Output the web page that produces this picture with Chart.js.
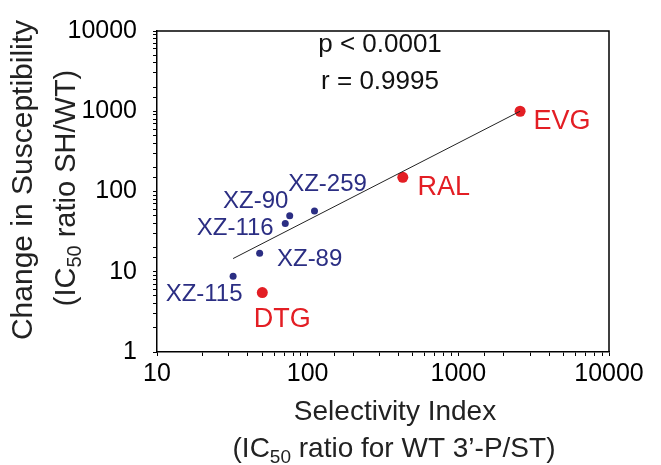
<!DOCTYPE html>
<html>
<head>
<meta charset="utf-8">
<script src="https://cdn.jsdelivr.net/npm/chart.js@4"></script>
<style>
  html, body { margin: 0; padding: 0; background: #fff; }
  #wrap { width: 661px; height: 465px; position: relative; }
</style>
</head>
<body>
<div id="wrap"><canvas id="siChart"></canvas></div>
<script>
// XZ compounds (blue)
const xzNames = ['XZ-115', 'XZ-89', 'XZ-116', 'XZ-90', 'XZ-259'];
const xzSelectivity = [32, 48, 71, 76, 111];
const xzFoldChange = [8.8, 17, 40, 50, 57];

// reference drugs (red)
const drugNames = ['DTG', 'RAL', 'EVG'];
const drugSelectivity = [50, 428, 2570];
const drugFoldChange = [5.5, 150, 1000];

// regression line end points
const fitX = [32, 2570];
const fitY = [14.6, 1000];

const statsText = ['p < 0.0001', 'r = 0.9995'];

const BLUE = '#2b2e83';
const RED = '#e31e24';
const FONT = "'Liberation Sans', Arial, sans-serif";

// label offsets from the point (text centre, baseline), in px
const xzLabelOffsets = [[-29, 25], [50, 13], [-50, 12], [-34, -8], [13, -20]];
const drugLabelOffsets = [[20, 34], [41, 18], [42, 18]];

const toPoints = (xs, ys) => xs.map((x, i) => ({ x: x, y: ys[i] }));

const decadeLabel = (v) => {
    const l = Math.log10(v);
    return Math.abs(l - Math.round(l)) < 1e-9 ? String(Math.round(v)) : '';
};

// draws a line of text where some parts are subscripts
function drawRich(ctx, parts, size, x, y) {
    const subSize = Math.round(size * 0.68);
    let total = 0;
    parts.forEach(p => {
        ctx.font = (p.sub ? subSize : size) + 'px ' + FONT;
        p.w = ctx.measureText(p.t).width;
        total += p.w;
    });
    let cx = x - total / 2;
    ctx.textAlign = 'left';
    ctx.textBaseline = 'alphabetic';
    parts.forEach(p => {
        ctx.font = (p.sub ? subSize : size) + 'px ' + FONT;
        ctx.fillText(p.t, cx, p.sub ? y + size * 0.22 : y);
        cx += p.w;
    });
}

const framePlugin = {
    id: 'frame',
    beforeDatasetsDraw(chart) {
        const { ctx, chartArea: a } = chart;
        ctx.save();
        ctx.strokeStyle = '#000';
        ctx.lineWidth = 1.5;
        ctx.beginPath();
        ctx.moveTo(a.left, a.top);
        ctx.lineTo(a.right, a.top);
        ctx.lineTo(a.right, a.bottom);
        ctx.stroke();
        ctx.restore();
    }
};

const textPlugin = {
    id: 'texts',
    afterDraw(chart) {
        const ctx = chart.ctx;
        ctx.save();

        // point labels
        const drawLabels = (dsIndex, names, offsets, color, size) => {
            const meta = chart.getDatasetMeta(dsIndex);
            ctx.fillStyle = color;
            ctx.font = size + 'px ' + FONT;
            ctx.textAlign = 'center';
            ctx.textBaseline = 'alphabetic';
            meta.data.forEach((pt, i) => {
                ctx.fillText(names[i], pt.x + offsets[i][0], pt.y + offsets[i][1]);
            });
        };
        drawLabels(1, xzNames, xzLabelOffsets, BLUE, 24);
        drawLabels(2, drugNames, drugLabelOffsets, RED, 27);

        // stats
        ctx.fillStyle = '#111';
        ctx.font = '26px ' + FONT;
        ctx.textAlign = 'center';
        ctx.fillText(statsText[0], 380, 52);
        ctx.fillText(statsText[1], 380, 89);

        // x axis title
        ctx.fillStyle = '#222';
        drawRich(ctx, [{ t: 'Selectivity Index' }], 28, 395, 420);
        drawRich(ctx, [{ t: '(IC' }, { t: '50', sub: true }, { t: ' ratio for WT 3\u2019-P/ST)' }], 28, 394, 457);

        // y axis title
        ctx.save();
        ctx.translate(32, 180);
        ctx.rotate(-Math.PI / 2);
        drawRich(ctx, [{ t: 'Change in Susceptibility' }], 30, 0, 0);
        ctx.restore();
        ctx.save();
        ctx.translate(75, 188);
        ctx.rotate(-Math.PI / 2);
        drawRich(ctx, [{ t: '(IC' }, { t: '50', sub: true }, { t: ' ratio SH/WT)' }], 29, 0, 0);
        ctx.restore();

        ctx.restore();
    }
};

const axisCommon = {
    type: 'logarithmic',
    grid: { drawOnChartArea: false, drawTicks: true, tickLength: 4, tickColor: '#000', tickWidth: 1 },
    border: { display: true, color: '#000', width: 1.5 },
    title: { display: false }
};

new Chart(document.getElementById('siChart'), {
    type: 'scatter',
    data: {
        datasets: [
            {
                type: 'line',
                data: toPoints(fitX, fitY),
                borderColor: '#222',
                borderWidth: 1,
                pointRadius: 0,
                showLine: true,
                fill: false
            },
            {
                data: toPoints(xzSelectivity, xzFoldChange),
                backgroundColor: BLUE,
                borderColor: BLUE,
                pointRadius: 3.5,
                borderWidth: 0
            },
            {
                data: toPoints(drugSelectivity, drugFoldChange),
                backgroundColor: RED,
                borderColor: RED,
                pointRadius: 5.5,
                borderWidth: 0
            }
        ]
    },
    options: {
        responsive: true,
        maintainAspectRatio: false,
        animation: false,
        layout: { padding: { left: 0, right: 52, top: 19, bottom: 0 } },
        scales: {
            x: {
                ...axisCommon,
                position: 'bottom',
                min: 10,
                max: 10000,
                afterFit: (s) => { s.height = 113; },
                ticks: {
                    autoSkip: false,
                    maxRotation: 0,
                    padding: 3,
                    color: '#000',
                    font: { family: FONT, size: 25 },
                    callback: decadeLabel
                }
            },
            y: {
                ...axisCommon,
                position: 'left',
                min: 1,
                max: 10000,
                afterFit: (s) => { s.width = 157; },
                ticks: {
                    autoSkip: false,
                    padding: 16,
                    color: '#000',
                    font: { family: FONT, size: 25 },
                    callback: decadeLabel
                }
            }
        },
        plugins: {
            legend: { display: false },
            tooltip: { enabled: false }
        }
    },
    plugins: [framePlugin, textPlugin]
});
</script>
</body>
</html>
